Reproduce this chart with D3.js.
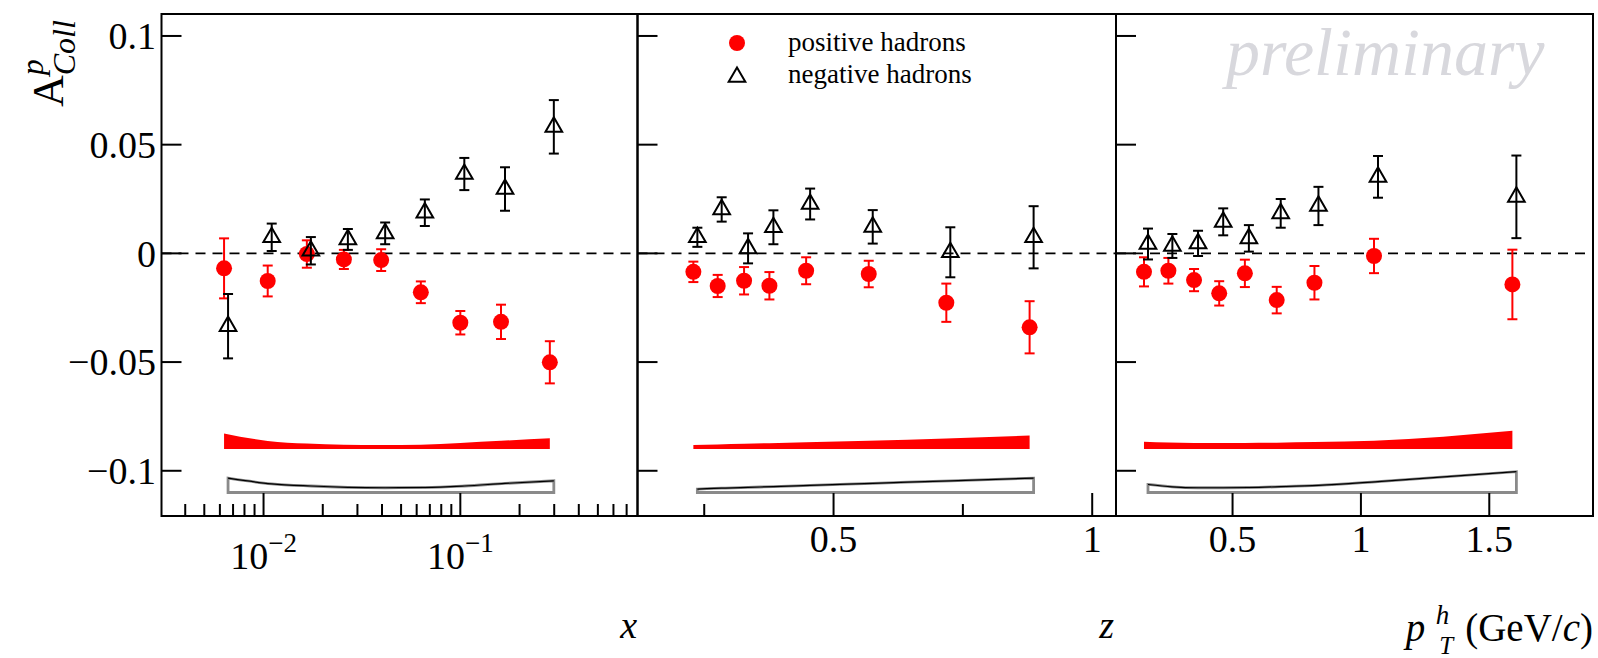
<!DOCTYPE html>
<html>
<head>
<meta charset="utf-8">
<script src="https://cdn.jsdelivr.net/npm/d3@7"></script>
<style>
body { margin: 0; background: #fff; }
text { font-family: "Liberation Serif", "Times New Roman", serif; }
</style>
</head>
<body>
<svg width="1598" height="658"></svg>
<script>
// bin centres
var xBins  = [0.0063, 0.0105, 0.0166, 0.0256, 0.0396, 0.063, 0.100, 0.161, 0.285];
var zBins  = [0.229, 0.276, 0.327, 0.376, 0.447, 0.568, 0.718, 0.879];
var ptBins = [0.155, 0.25, 0.35, 0.448, 0.548, 0.672, 0.819, 1.051, 1.59];

// positive hadrons
var xPos     = [-0.0069, -0.0127, -0.0003, -0.0028, -0.0031, -0.0179, -0.0319, -0.0315, -0.0501];
var xPosErr  = [0.0138, 0.0071, 0.0063, 0.0044, 0.005, 0.005, 0.0054, 0.0079, 0.0097];
var xPosSys  = [0.0072, 0.0037, 0.0025, 0.002, 0.0018, 0.002, 0.0028, 0.0038, 0.005];
var zPos     = [-0.0085, -0.0150, -0.0126, -0.0149, -0.0080, -0.0095, -0.0227, -0.0340];
var zPosErr  = [0.0047, 0.0051, 0.0063, 0.0063, 0.0062, 0.0061, 0.0088, 0.012];
var zPosSys  = [0.0018, 0.0021, 0.0024, 0.0027, 0.0031, 0.0038, 0.0048, 0.0062];
var ptPos    = [-0.0085, -0.0080, -0.0123, -0.0184, -0.0092, -0.0215, -0.0135, -0.0012, -0.0143];
var ptPosErr = [0.0067, 0.0059, 0.0051, 0.0056, 0.0063, 0.0061, 0.0077, 0.0079, 0.016];
var ptPosSys = [0.0034, 0.003, 0.0028, 0.0028, 0.0028, 0.0029, 0.0032, 0.0038, 0.0084];

// negative hadrons
var xNeg     = [-0.0335, 0.0074, 0.0012, 0.0064, 0.0092, 0.0187, 0.0365, 0.0296, 0.0582];
var xNegErr  = [0.0148, 0.0063, 0.0063, 0.0048, 0.005, 0.0061, 0.0074, 0.01, 0.0123];
var xNegSys  = [0.0066, 0.004, 0.003, 0.0024, 0.0022, 0.0023, 0.003, 0.0042, 0.0054];
var zNeg     = [0.0074, 0.0202, 0.0023, 0.0120, 0.0227, 0.0122, 0.0005, 0.0074];
var zNegErr  = [0.0044, 0.0056, 0.0069, 0.0078, 0.0071, 0.0077, 0.0115, 0.0143];
var zNegSys  = [0.0016, 0.002, 0.0024, 0.0027, 0.0033, 0.0042, 0.0054, 0.0066];
var ptNeg    = [0.0043, 0.0034, 0.0046, 0.0145, 0.0069, 0.0184, 0.0218, 0.0352, 0.026];
var ptNegErr = [0.0071, 0.0055, 0.0058, 0.0062, 0.0061, 0.0066, 0.0088, 0.0096, 0.019];
var ptNegSys = [0.0037, 0.0026, 0.0022, 0.0022, 0.0023, 0.0027, 0.0033, 0.005, 0.0096];

// ticks
var yTicks  = [0.1, 0.05, 0, -0.05, -0.1];
var xTicks  = [0.01, 0.1];
var zTicks  = [0.5, 1];
var zMinor  = [0.25, 0.75];
var ptTicks = [0.5, 1, 1.5];
var posBase = -0.09, negBase = -0.11;

var svg = d3.select("svg");
var yTop = 14, yBot = 516;

var y  = d3.scaleLinear().domain([-0.1208, 0.1101]).range([yBot, yTop]);
var sx = d3.scaleLog().domain([0.00303, 0.795]).range([161.5, 637.5]);
var sz = d3.scaleLinear().domain([0.121, 1.046]).range([637.5, 1116]);
var sp = d3.scaleLinear().domain([0.046, 1.904]).range([1116, 1593]);

var fmtY = function(d) { return (d < 0 ? "\u2212" : "") + Math.abs(d); };

var panels = [
  {s: sx, bins: xBins, pos: xPos, posErr: xPosErr, posSys: xPosSys, neg: xNeg, negErr: xNegErr, negSys: xNegSys},
  {s: sz, bins: zBins, pos: zPos, posErr: zPosErr, posSys: zPosSys, neg: zNeg, negErr: zNegErr, negSys: zNegSys},
  {s: sp, bins: ptBins, pos: ptPos, posErr: ptPosErr, posSys: ptPosSys, neg: ptNeg, negErr: ptNegErr, negSys: ptNegSys}
];

var negOff = 4;

panels.forEach(function(p) {
  var g = svg.append("g");
  var x0 = p.s.range()[0], x1 = p.s.range()[1];

  // systematic bands
  var redArea = d3.area()
    .x(function(d, i) { return p.s(p.bins[i]); })
    .y0(y(posBase))
    .y1(function(d) { return y(posBase + d); })
    .curve(d3.curveMonotoneX);
  g.append("path").attr("d", redArea(p.posSys)).attr("fill", "#ff0000");

  var grayArea = d3.area()
    .x(function(d, i) { return p.s(p.bins[i]) + negOff; })
    .y0(y(negBase))
    .y1(function(d) { return y(negBase + d); })
    .curve(d3.curveMonotoneX);
  g.append("path").attr("d", grayArea(p.negSys))
    .attr("fill", "#fff").attr("stroke", "#8a8a8a").attr("stroke-width", 2.8);
  var grayTop = d3.line()
    .x(function(d, i) { return p.s(p.bins[i]) + negOff; })
    .y(function(d) { return y(negBase + d); })
    .curve(d3.curveMonotoneX);
  g.append("path").attr("d", grayTop(p.negSys))
    .attr("fill", "none").attr("stroke", "#000").attr("stroke-width", 1.2);

  // zero line
  g.append("line").attr("x1", x0).attr("x2", x1).attr("y1", y(0)).attr("y2", y(0))
    .attr("stroke", "#000").attr("stroke-width", 1.8).attr("stroke-dasharray", "10,7");

  // positive points
  p.bins.forEach(function(b, i) {
    var cx = p.s(b), v = p.pos[i], e = p.posErr[i];
    g.append("line").attr("x1", cx).attr("x2", cx).attr("y1", y(v - e)).attr("y2", y(v + e))
      .attr("stroke", "#ff0000").attr("stroke-width", 2);
    [v - e, v + e].forEach(function(c) {
      g.append("line").attr("x1", cx - 5).attr("x2", cx + 5).attr("y1", y(c)).attr("y2", y(c))
        .attr("stroke", "#ff0000").attr("stroke-width", 2);
    });
    g.append("circle").attr("cx", cx).attr("cy", y(v)).attr("r", 8).attr("fill", "#ff0000");
  });

  // negative points
  p.bins.forEach(function(b, i) {
    var cx = p.s(b) + negOff, v = p.neg[i], e = p.negErr[i];
    g.append("line").attr("x1", cx).attr("x2", cx).attr("y1", y(v - e)).attr("y2", y(v + e))
      .attr("stroke", "#000").attr("stroke-width", 2);
    [v - e, v + e].forEach(function(c) {
      g.append("line").attr("x1", cx - 5).attr("x2", cx + 5).attr("y1", y(c)).attr("y2", y(c))
        .attr("stroke", "#000").attr("stroke-width", 2);
    });
    g.append("path").attr("d", d3.symbol(d3.symbolTriangle, 120)())
      .attr("transform", "translate(" + cx + "," + y(v) + ")")
      .attr("fill", "none").attr("stroke", "#000").attr("stroke-width", 2);
  });

  // y ticks on the left edge of every panel
  yTicks.forEach(function(t) {
    g.append("line").attr("x1", x0).attr("x2", x0 + 20).attr("y1", y(t)).attr("y2", y(t))
      .attr("stroke", "#000").attr("stroke-width", 2);
  });

  // frame
  g.append("rect").attr("x", x0).attr("y", yTop).attr("width", x1 - x0).attr("height", yBot - yTop)
    .attr("fill", "none").attr("stroke", "#000").attr("stroke-width", 2);
});

// y tick labels
svg.selectAll(".ylab").data(yTicks).enter().append("text")
  .attr("x", 156).attr("y", function(d) { return y(d); }).attr("dy", "0.35em")
  .attr("text-anchor", "end").attr("font-size", 38).text(fmtY);

// x ticks: log panel
function xTick(xp, len) {
  svg.append("line").attr("x1", xp).attr("x2", xp).attr("y1", yBot).attr("y2", yBot - len)
    .attr("stroke", "#000").attr("stroke-width", 2);
}
sx.ticks().forEach(function(t) {
  var major = xTicks.indexOf(+t.toPrecision(3)) >= 0;
  xTick(sx(t), major ? 23 : 12);
});
xTicks.forEach(function(t) {
  var lab = svg.append("text").attr("x", sx(t)).attr("y", 569)
    .attr("text-anchor", "middle").attr("font-size", 38);
  lab.append("tspan").text("10");
  lab.append("tspan").attr("font-size", 27).attr("dy", -17)
    .text("\u2212" + Math.round(-Math.log10(t)));
});

zTicks.forEach(function(t) { xTick(sz(t), 23); });
zMinor.forEach(function(t) { xTick(sz(t), 12); });
svg.selectAll(".zlab").data(zTicks).enter().append("text")
  .attr("x", function(d) { return sz(d); }).attr("y", 552)
  .attr("text-anchor", "middle").attr("font-size", 38).text(function(d) { return d; });

ptTicks.forEach(function(t) { xTick(sp(t), 23); });
svg.selectAll(".plab").data(ptTicks).enter().append("text")
  .attr("x", function(d) { return sp(d); }).attr("y", 552)
  .attr("text-anchor", "middle").attr("font-size", 38).text(function(d) { return d; });

// axis titles
svg.append("text").attr("x", 637).attr("y", 638).attr("text-anchor", "end")
  .attr("font-size", 38).attr("font-style", "italic").text("x");
svg.append("text").attr("x", 1114).attr("y", 638).attr("text-anchor", "end")
  .attr("font-size", 38).attr("font-style", "italic").text("z");

var unit = svg.append("text").attr("x", 1593).attr("y", 641).attr("text-anchor", "end")
  .attr("font-size", 39);
unit.append("tspan").text("(GeV/");
unit.append("tspan").attr("font-style", "italic").text("c");
unit.append("tspan").text(")");
var uw = unit.node().getComputedTextLength();
var hx = 1593 - uw - 12;
svg.append("text").attr("x", hx - 4).attr("y", 624).attr("text-anchor", "end")
  .attr("font-size", 27).attr("font-style", "italic").text("h");
svg.append("text").attr("x", hx).attr("y", 654).attr("text-anchor", "end")
  .attr("font-size", 25).attr("font-style", "italic").text("T");
svg.append("text").attr("x", hx - 28).attr("y", 641).attr("text-anchor", "end")
  .attr("font-size", 39).attr("font-style", "italic").text("p");

// y title
var yt = svg.append("text").attr("transform", "translate(63,107) rotate(-90)")
  .attr("font-size", 44);
yt.append("tspan").text("A");
yt.append("tspan").attr("font-size", 32).attr("font-style", "italic").attr("dy", -20).text("p");
yt.append("tspan").attr("font-size", 32).attr("font-style", "italic").attr("dx", -16).attr("dy", 32).text("Coll");

// legend
svg.append("circle").attr("cx", 737).attr("cy", 43).attr("r", 8).attr("fill", "#ff0000");
svg.append("path").attr("d", d3.symbol(d3.symbolTriangle, 120)())
  .attr("transform", "translate(737,77)")
  .attr("fill", "none").attr("stroke", "#000").attr("stroke-width", 2);
svg.append("text").attr("x", 788).attr("y", 51).attr("font-size", 27).text("positive hadrons");
svg.append("text").attr("x", 788).attr("y", 83).attr("font-size", 27).text("negative hadrons");

// watermark
svg.append("text").attr("x", 1226).attr("y", 75).attr("font-size", 68)
  .attr("font-style", "italic").attr("fill", "#d8d8dd").text("preliminary");
</script>
</body>
</html>
